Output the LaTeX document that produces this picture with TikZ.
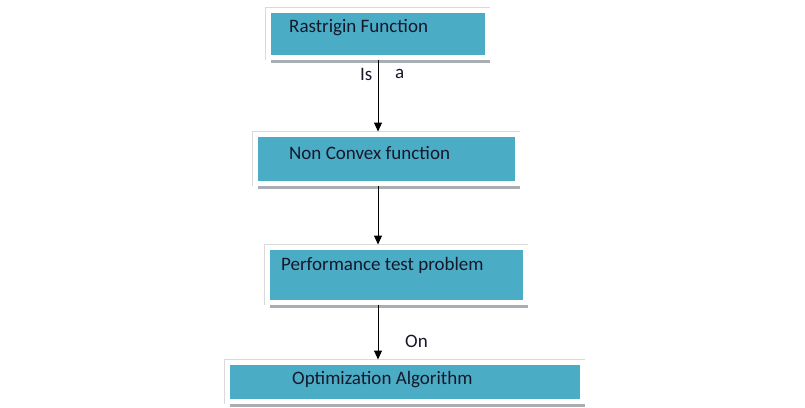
\documentclass[tikz,border=0pt]{standalone}
\usepackage{fontspec}
\setmainfont{Carlito}
\usetikzlibrary{arrows.meta,shadows}
\definecolor{teal1}{HTML}{4BACC6}
\definecolor{ink}{HTML}{16182A}
\definecolor{shade}{HTML}{A9AEB3}
\tikzset{
  box/.style={fill=teal1, draw=white, line width=5pt, inner sep=0pt,
    preaction={draw=black!15, line width=6.2pt},
    drop shadow={shadow xshift=3pt, shadow yshift=-6pt, fill=shade, opacity=1}},
  lbl/.style={font=\fontsize{19}{22}\selectfont, text=ink, inner sep=0pt, anchor=west},
  conn/.style={draw=black, line width=1pt, -{Triangle[width=8pt,length=9pt]}},
}
\begin{document}
\begin{tikzpicture}[x=1pt,y=1pt]
\useasboundingbox[fill=white] (0,0) rectangle (805,-407);
\node[box, minimum width=219pt, minimum height=47pt] (b1) at (377.5,-33.5) {};
\node[box, minimum width=262pt, minimum height=49pt] (b2) at (386,-158.5) {};
\node[box, minimum width=258pt, minimum height=55pt] (b3) at (396,-274.5) {};
\node[box, minimum width=355pt, minimum height=39pt] (b4) at (404.5,-381.5) {};
\node[lbl] (t1) at (289,-28) {Rastrigin Function};
\node[lbl] (t2) at (289,-153) {Non Convex function};
\node[lbl] (t3) at (281,-265) {Performance test problem};
\node[lbl] (t4) at (292,-380) {Optimization Algorithm};
\coordinate (ax) at (378,0);
\draw[conn] (b1.south -| ax) -- (b2.north -| ax);
\draw[conn] (b2.south -| ax) -- (b3.north -| ax);
\draw[conn] (b3.south -| ax) -- (b4.north -| ax);
\node[lbl] (l1) at (360,-74) {Is};
\node[lbl] (l2) at (395,-74) {a};
\node[lbl] (l3) at (405,-341) {On};
\end{tikzpicture}
\end{document}
